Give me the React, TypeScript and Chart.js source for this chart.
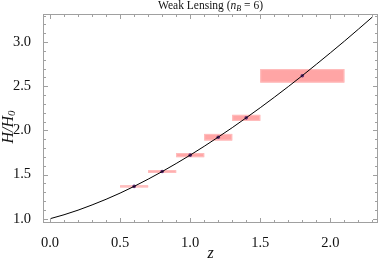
import React, { useEffect, useRef } from "react";
import { Chart, registerables } from "chart.js";

Chart.register(...registerables);

// Theoretical curve H/H0(z)
const curveZ = [0, 0.1, 0.2, 0.3, 0.4, 0.5, 0.6, 0.7, 0.8, 0.9, 1.0, 1.1, 1.2, 1.3, 1.4, 1.5, 1.6, 1.7, 1.8, 1.9, 2.0, 2.1, 2.2, 2.3];
const curveH = [1.0, 1.045, 1.097, 1.156, 1.22, 1.29, 1.366, 1.448, 1.534, 1.625, 1.72, 1.82, 1.924, 2.031, 2.143, 2.257, 2.375, 2.496, 2.62, 2.748, 2.878, 3.01, 3.146, 3.284];

// Measured points
const pointZ = [0.6, 0.8, 1.0, 1.2, 1.4, 1.8];
const pointH = [1.366, 1.534, 1.72, 1.923, 2.142, 2.618];

// Error boxes
const boxZLo = [0.5, 0.7, 0.9, 1.1, 1.3, 1.5];
const boxZHi = [0.7, 0.9, 1.1, 1.3, 1.5, 2.1];
const boxHLo = [1.355, 1.519, 1.697, 1.886, 2.108, 2.542];
const boxHHi = [1.377, 1.549, 1.743, 1.96, 2.176, 2.694];

// Ticks
const xTicks = [0, 0.5, 1.0, 1.5, 2.0];
const yTicks = [1.0, 1.5, 2.0, 2.5, 3.0];
const xMinorStep = 0.1;
const yMinorStep = 0.1;

const titleMain = "Weak Lensing (";
const titleVar = "n";
const titleSub = "B";
const titleEnd = " = 6)";
const yTitle = "H/H";
const yTitleSub = "0";
const xTitle = "z";

const SERIF = "'Liberation Serif', 'DejaVu Serif', serif";

const boxPlugin = {
  id: "boxes",
  beforeDatasetsDraw(chart: any) {
    const { ctx, scales } = chart;
    const x = scales.x, y = scales.y;
    ctx.save();
    for (let i = 0; i < boxZLo.length; i++) {
      const x0 = x.getPixelForValue(boxZLo[i]);
      const x1 = x.getPixelForValue(boxZHi[i]);
      const y0 = y.getPixelForValue(boxHHi[i]);
      const y1 = y.getPixelForValue(boxHLo[i]);
      ctx.fillStyle = "rgba(255,160,160,0.95)";
      ctx.fillRect(x0, y0, x1 - x0, y1 - y0);
      ctx.strokeStyle = "rgba(255,190,190,1)";
      ctx.lineWidth = 1;
      ctx.strokeRect(x0 + 0.5, y0 + 0.5, x1 - x0 - 1, y1 - y0 - 1);
    }
    ctx.restore();
  },
};

const framePlugin = {
  id: "frame",
  afterDraw(chart: any) {
    const { ctx, chartArea, scales } = chart;
    const x = scales.x, y = scales.y;
    const L = Math.round(chartArea.left) + 0.5;
    const R = Math.round(chartArea.right) - 0.5;
    const T = Math.round(chartArea.top) + 0.5;
    const B = Math.round(chartArea.bottom) - 0.5;
    ctx.save();
    ctx.strokeStyle = "#a0a0a0";
    ctx.lineWidth = 1;
    ctx.strokeRect(L, T, R - L, B - T);
    ctx.beginPath();
    const majX = 4.5, minX = 2.5;
    for (let v = 0; v <= 2.35 + 1e-9; v += xMinorStep) {
      const vv = Math.round(v * 10) / 10;
      if (vv < x.min || vv > x.max) continue;
      const isMajor = Math.abs(vv * 2 - Math.round(vv * 2)) < 1e-6;
      const len = isMajor ? majX : minX;
      const px = Math.round(x.getPixelForValue(vv)) + 0.5;
      ctx.moveTo(px, B); ctx.lineTo(px, B - len);
      ctx.moveTo(px, T); ctx.lineTo(px, T + len);
    }
    for (let v = 0.9; v <= 3.35 + 1e-9; v += yMinorStep) {
      const vv = Math.round(v * 10) / 10;
      if (vv < y.min || vv > y.max) continue;
      const isMajor = Math.abs(vv * 2 - Math.round(vv * 2)) < 1e-6;
      const len = isMajor ? majX : minX;
      const py = Math.round(y.getPixelForValue(vv)) + 0.5;
      ctx.moveTo(L, py); ctx.lineTo(L + len, py);
      ctx.moveTo(R, py); ctx.lineTo(R - len, py);
    }
    ctx.stroke();

    // Title
    ctx.fillStyle = "#111";
    ctx.textBaseline = "alphabetic";
    const fN = "11.5px " + SERIF;
    const fI = "italic 11.5px " + SERIF;
    const fS = "italic 8px " + SERIF;
    ctx.font = fN; const w1 = ctx.measureText(titleMain).width;
    ctx.font = fI; const w2 = ctx.measureText(titleVar).width;
    ctx.font = fS; const w3 = ctx.measureText(titleSub).width;
    ctx.font = fN; const w4 = ctx.measureText(titleEnd).width;
    const total = w1 + w2 + w3 + w4;
    let tx = (chartArea.left + chartArea.right) / 2 - total / 2;
    const ty = 9;
    ctx.textAlign = "left";
    ctx.font = fN; ctx.fillText(titleMain, tx, ty); tx += w1;
    ctx.font = fI; ctx.fillText(titleVar, tx, ty); tx += w2;
    ctx.font = fS; ctx.fillText(titleSub, tx, ty + 2); tx += w3;
    ctx.font = fN; ctx.fillText(titleEnd, tx, ty);

    // x title
    ctx.font = "italic 16px " + SERIF;
    ctx.textAlign = "center";
    ctx.fillText(xTitle, (chartArea.left + chartArea.right) / 2, 258);

    // y title (rotated)
    ctx.save();
    ctx.translate(13, 127);
    ctx.rotate(-Math.PI / 2);
    ctx.font = "italic 16px " + SERIF;
    const wy1 = ctx.measureText(yTitle).width;
    ctx.font = "italic 11px " + SERIF;
    const wy2 = ctx.measureText(yTitleSub).width;
    let yx = -(wy1 + wy2) / 2;
    ctx.textAlign = "left";
    ctx.font = "italic 16px " + SERIF;
    ctx.fillText(yTitle, yx, 0); yx += wy1;
    ctx.font = "italic 11px " + SERIF;
    ctx.fillText(yTitleSub, yx, 2);
    ctx.restore();

    ctx.restore();
  },
};

export default function App() {
  const ref = useRef<HTMLCanvasElement | null>(null);
  useEffect(() => {
    if (!ref.current) return;
    const chart = new Chart(ref.current, {
      type: "line",
      data: {
        datasets: [
          {
            data: curveZ.map((z, i) => ({ x: z, y: curveH[i] })),
            borderColor: "#000",
            borderWidth: 1,
            pointRadius: 0,
            tension: 0.4,
            cubicInterpolationMode: "monotone",
            fill: false,
          },
          {
            type: "scatter",
            data: pointZ.map((z, i) => ({ x: z, y: pointH[i] })),
            backgroundColor: "#5e2a74",
            borderColor: "#5e2a74",
            pointRadius: 1.8,
            borderWidth: 0,
          },
        ],
      } as any,
      options: {
        animation: false,
        responsive: false,
        maintainAspectRatio: false,
        layout: { padding: { top: 14, right: 1, left: 0, bottom: 0 } },
        plugins: { legend: { display: false }, tooltip: { enabled: false }, title: { display: false } },
        scales: {
          x: {
            type: "linear",
            min: -0.05,
            max: 2.34,
            grid: { display: false },
            border: { display: false },
            afterBuildTicks: (s: any) => { s.ticks = xTicks.map((v) => ({ value: v })); },
            afterFit: (s: any) => { s.height = 261 - 222.7; },
            ticks: {
              callback: (v: any) => Number(v).toFixed(1),
              font: { family: SERIF, size: 14.5 },
              color: "#111",
              padding: 4,
              maxRotation: 0,
              autoSkip: false,
            },
          },
          y: {
            type: "linear",
            min: 0.955,
            max: 3.318,
            grid: { display: false },
            border: { display: false },
            afterBuildTicks: (s: any) => { s.ticks = yTicks.map((v) => ({ value: v })); },
            afterFit: (s: any) => { s.width = 43; },
            ticks: {
              callback: (v: any) => Number(v).toFixed(1),
              font: { family: SERIF, size: 14.5 },
              color: "#111",
              padding: 4,
              autoSkip: false,
            },
          },
        },
      } as any,
      plugins: [boxPlugin, framePlugin],
    });
    return () => chart.destroy();
  }, []);
  return (
    <div style={{ position: "fixed", left: 0, top: 0, width: 382, height: 261, background: "#fff" }}>
      <canvas ref={ref} width={382} height={261} style={{ width: 382, height: 261 }} />
    </div>
  );
}
